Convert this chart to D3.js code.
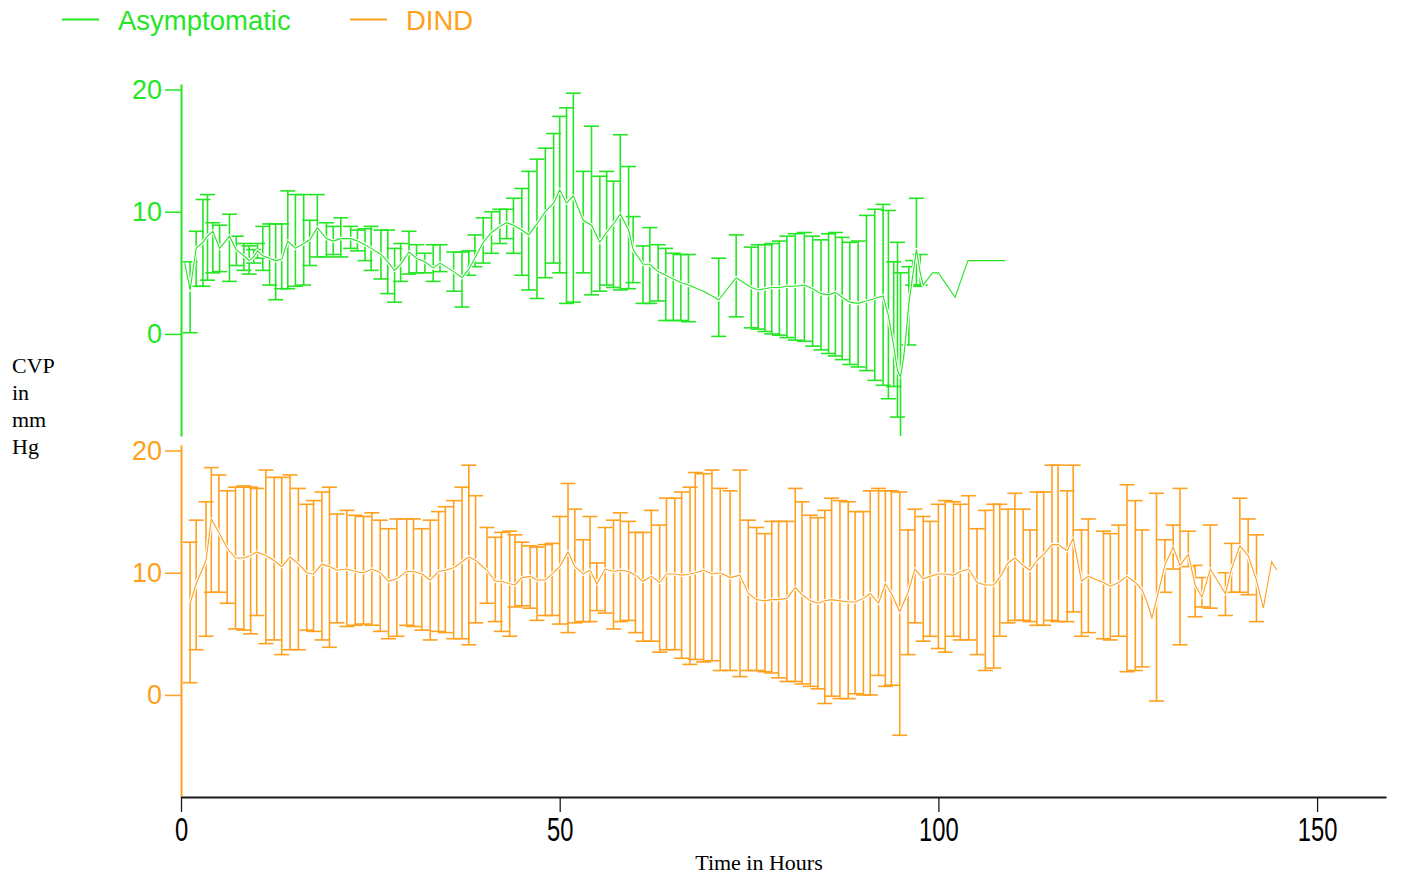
<!DOCTYPE html>
<html>
<head>
<meta charset="utf-8">
<script src="https://cdn.jsdelivr.net/npm/d3@7"></script>
<style>
  body { margin: 0; background: #fff; }
  svg { display: block; }
</style>
</head>
<body>
<svg id="chart" width="1401" height="876"></svg>
<script>
// Asymptomatic group (hours, mean CVP, upper and lower error bar ends)
var asymTime = [0.5, 1.2, 2.0, 2.9, 3.5, 4.2, 5.1, 6.4, 7.3, 8.3, 9.0, 9.6, 10.1, 10.8, 11.7, 12.5, 13.3, 14.1, 15.1, 16.2,
  17.0, 18.0, 19.2, 20.1, 21.1, 22.4, 23.3, 24.3, 25.1, 26.4, 27.3, 28.2, 29.0, 30.1, 31.1, 32.2, 33.3, 34.2, 36.0, 37.1,
  38.0, 38.8, 39.9, 41.0, 42.1, 43.0, 43.9, 45.0, 45.9, 47.0, 48.1, 49.2, 50.0, 50.9, 51.8, 53.1, 54.2, 55.3, 56.2, 57.1,
  58.0, 59.1, 59.7, 61.0, 61.9, 63.0, 64.0, 65.0, 66.0, 67.0, 69.0, 71.0, 73.3, 75.3, 76.2, 77.1, 78.0, 79.0, 80.0, 81.1,
  82.3, 83.4, 84.5, 85.5, 86.4, 87.3, 88.3, 89.4, 90.5, 91.6, 92.7, 93.4, 94.1, 94.6, 95.0, 95.4, 95.7, 96.1, 96.6, 97.1,
  97.6, 98.0, 99.2, 100.0, 102.2, 103.9, 108.8]
var asymMean = [5.8, 3.6, 7.0, 7.5, 8.0, 8.4, 7.0, 8.0, 6.9, 6.4, 6.0, 6.3, 6.8, 6.4, 6.2, 6.0, 6.1, 7.6, 7.0, 7.4,
  7.7, 8.7, 7.8, 7.6, 7.8, 7.8, 7.6, 7.3, 7.0, 6.5, 5.9, 5.2, 5.7, 6.7, 6.2, 5.9, 5.4, 5.8, 5.1, 4.6,
  5.3, 6.2, 7.5, 8.3, 8.8, 9.1, 8.9, 8.5, 8.1, 9.0, 10.0, 10.7, 11.8, 10.7, 11.3, 9.3, 8.9, 7.5, 8.3, 9.0,
  9.8, 8.5, 6.9, 5.7, 5.7, 5.1, 4.8, 4.5, 4.2, 4.0, 3.5, 2.8, 4.6, 3.8, 3.6, 3.7, 3.8, 3.8, 3.9, 3.9,
  4.0, 3.7, 3.3, 3.2, 3.4, 3.0, 2.6, 2.5, 2.7, 2.9, 3.1, 1.5, -1.0, -3.0, -3.5, -2.0, -0.2, 2.5, 4.7, 6.9,
  5.0, 4.0, 5.0, 5.0, 3.0, 6.0, 6.0]
var asymHigh = [null, 5.9, 8.4, 11.0, 11.4, 9.1, 8.9, 9.8, 8.0, 7.4, 7.2, 6.9, 7.4, 8.8, 9.0, 9.0, 9.0, 11.7, 11.4, 11.4,
  9.3, 11.4, 9.1, 8.8, 9.5, 8.8, 8.5, 8.6, 8.8, 8.5, 8.5, 7.0, 7.4, 8.4, 7.3, 6.6, 7.3, 7.3, 6.7, 6.7,
  6.8, 8.1, 9.5, 10.0, 10.2, 10.2, 11.1, 11.9, 13.3, 14.3, 15.2, 16.4, 17.8, 18.5, 19.7, 13.3, 17.0, 12.9, 13.3, 12.5,
  16.3, 13.7, 9.6, 7.2, 8.7, 7.3, 7.0, 6.6, 6.5, 6.5, null, 6.2, 8.1, 7.1, 7.3, 7.3, 7.4, 7.6, 8.0, 8.2,
  8.3, 8.0, 7.7, 8.2, 8.3, 7.9, 7.5, 7.6, 9.7, 10.2, 10.6, 10.1, 5.9, 7.5, 5.0, null, null, 5.5, 6.0, 11.1,
  6.5, null, null, null, null, null, null]
var asymLow = [null, 0.1, 3.9, 3.9, 4.4, 5.0, 5.1, 4.3, 5.6, 5.2, 4.9, 5.8, 6.2, 5.2, 4.0, 2.8, 3.7, 3.7, 3.9, 4.0,
  5.6, 6.3, 6.3, 6.5, 6.3, 7.0, 6.8, 6.0, 5.2, 4.5, 3.3, 2.6, 4.3, 4.9, 5.0, 5.0, 4.3, 5.1, 3.5, 2.2,
  4.8, 5.5, 5.8, 6.6, 7.4, 7.8, 6.6, 4.8, 3.6, 2.9, 4.6, 5.8, 5.0, 2.5, 2.6, 5.0, 3.2, 3.5, 4.0, 3.8,
  3.6, 3.7, 4.2, 2.5, 2.5, 2.7, 1.1, 1.1, 1.1, 1.0, null, -0.2, 1.4, 0.5, 0.4, 0.2, 0.0, -0.1, -0.3, -0.5,
  -0.6, -1.0, -1.3, -1.6, -1.8, -2.1, -2.5, -2.7, -3.0, -3.8, -4.2, -5.3, -4.3, -6.8, -9.5, null, null, -0.9, 4.0, 3.9,
  4.0, null, null, null, null, null, null]

// DIND group
var dindTime = [1.2, 2.0, 3.3, 4.0, 5.0, 6.1, 7.2, 8.3, 9.2, 10.0, 11.2, 12.3, 13.3, 14.4, 15.5, 16.6, 17.5, 18.6, 19.6, 20.6,
  21.9, 23.0, 24.1, 25.2, 26.3, 27.4, 28.5, 29.8, 30.7, 31.8, 32.9, 34.0, 34.9, 36.0, 37.1, 38.0, 38.9, 40.4, 41.5, 42.3,
  43.4, 44.1, 45.0, 46.1, 47.0, 48.1, 49.0, 50.0, 51.1, 52.0, 53.1, 54.0, 54.9, 56.0, 57.1, 58.0, 59.1, 60.0, 61.0, 62.1,
  63.2, 64.1, 65.2, 66.1, 67.2, 67.9, 69.0, 70.1, 71.2, 72.5, 73.8, 74.9, 76.0, 77.1, 78.0, 78.9, 80.0, 81.1, 82.0, 83.1,
  84.1, 85.0, 85.9, 87.0, 88.1, 89.0, 90.1, 91.0, 92.1, 93.0, 93.8, 94.9, 96.0, 96.9, 98.0, 98.9, 100.0, 100.9, 102.0, 102.9,
  104.0, 105.1, 106.2, 107.3, 108.1, 109.2, 110.1, 111.2, 112.1, 113.0, 113.9, 115.0, 115.8, 117.0, 117.8, 118.9, 119.8, 121.8, 122.7, 123.8,
  124.9, 126.0, 126.9, 127.6, 128.2, 128.8, 129.9, 131.0, 131.9, 133.0, 133.9, 134.8, 135.9, 137.9, 138.7, 139.8, 140.9, 142.0, 142.9, 144.0,
  144.7]
var dindMean = [7.5, 9.1, 11.0, 14.4, 13.3, 12.0, 11.2, 11.2, 11.4, 11.7, 11.4, 11.0, 10.5, 11.3, 10.7, 10.0, 9.9, 10.7, 10.5, 10.2,
  10.3, 10.1, 10.0, 10.3, 10.0, 9.3, 9.5, 10.1, 10.1, 9.9, 9.4, 10.1, 10.2, 10.4, 10.9, 11.3, 11.0, 10.2, 9.3, 9.3,
  9.1, 9.0, 9.6, 9.7, 9.4, 9.4, 9.9, 10.5, 11.7, 10.5, 9.9, 10.2, 9.1, 10.3, 10.1, 10.2, 10.1, 9.8, 9.3, 9.7,
  9.2, 9.9, 9.9, 9.8, 9.9, 10.0, 10.2, 9.9, 10.0, 9.6, 9.8, 8.3, 7.8, 7.7, 7.8, 7.8, 7.9, 8.8, 8.2, 7.7,
  7.5, 7.7, 7.8, 7.7, 7.6, 7.6, 7.9, 8.3, 7.5, 9.1, 8.3, 6.8, 8.4, 10.3, 9.5, 9.7, 9.9, 9.9, 9.8, 10.1,
  10.3, 9.2, 9.0, 9.0, 9.6, 10.8, 11.2, 10.6, 10.2, 11.0, 11.5, 12.3, 12.3, 11.8, 12.8, 9.3, 9.7, 9.2, 8.9, 9.2,
  9.7, 9.2, 8.6, 7.5, 6.3, 7.8, 10.6, 12.1, 10.6, 11.5, 9.0, 8.0, 10.3, 8.3, 10.3, 12.2, 11.4, 9.4, 7.1, 10.9,
  10.2]
var dindHigh = [12.5, 14.3, 15.8, 18.6, 18.0, 16.7, 17.0, 17.1, 17.0, 16.9, 18.4, 17.8, 17.8, 18.0, 16.9, 15.6, 15.9, 16.6, 17.0, 14.8,
  15.1, 14.7, 14.6, 14.9, 14.3, 13.6, 14.4, 14.4, 14.4, 13.6, 14.3, 15.0, 15.4, 15.9, 17.0, 18.8, 16.3, 13.7, 12.9, 13.3,
  13.4, 13.1, 12.5, 12.2, 12.1, 12.3, 12.4, 14.6, 17.3, 15.2, 12.7, 14.6, 10.8, 13.7, 14.3, 14.9, 14.2, 13.3, 13.3, 15.1,
  13.9, 16.1, 16.1, 16.6, 17.0, 18.2, 18.1, 18.4, 16.9, 16.7, 18.4, 14.3, 13.7, 13.2, 14.2, 14.2, 14.2, 16.9, 15.8, 14.7,
  14.5, 15.1, 16.1, 15.9, 15.8, 15.0, 15.0, 16.7, 16.9, 16.7, 16.7, 16.6, 13.5, 15.2, 14.6, 14.2, 15.6, 15.9, 15.8, 15.6,
  16.3, 13.6, 15.1, 15.6, 15.6, 15.2, 16.5, 15.2, 13.5, 16.6, 16.6, 18.8, 18.8, 16.7, 18.8, 13.5, 14.4, 13.4, 13.2, 13.9,
  17.2, 15.9, 13.5, null, null, 16.5, 12.7, 13.9, 16.9, 13.4, 10.6, 9.6, 13.9, 10.0, 12.4, 16.1, 14.4, 13.1, null, null,
  null]
var dindLow = [1.0, 3.7, 4.8, 8.4, 8.4, 7.5, 5.4, 5.3, 5.0, 6.5, 4.2, 4.5, 3.3, 3.7, 3.7, 5.3, 5.2, 4.5, 3.9, 5.9,
  5.6, 5.7, 5.8, 5.7, 5.2, 4.6, 4.8, 5.7, 5.6, 5.3, 4.5, 5.2, 5.1, 4.6, 4.6, 4.1, 5.9, 7.5, 6.0, 5.2,
  4.8, 7.2, 7.3, 7.1, 6.1, 6.5, 6.5, 5.8, 5.1, 5.9, 6.0, 6.0, 6.9, 6.7, 5.4, 6.0, 6.1, 5.1, 4.4, 4.4,
  3.5, 3.7, 3.7, 3.0, 2.5, 2.9, 2.7, 2.8, 2.0, 2.0, 1.5, 2.0, 2.0, 1.9, 1.8, 1.4, 1.1, 1.1, 0.9, 0.7,
  0.5, -0.7, -0.1, -0.3, -0.3, 0.1, 0.0, 0.0, 1.6, 0.7, 0.8, -3.3, 3.3, 5.9, 4.4, 4.8, 3.8, 3.5, 4.8, 4.5,
  4.5, 3.3, 2.0, 2.2, 4.8, 5.9, 6.1, 6.1, 6.0, 5.7, 5.7, 6.1, 6.0, 6.0, 6.8, 4.8, 5.1, 4.6, 4.5, 4.8,
  1.9, 2.0, 2.3, null, null, -0.5, 8.4, 10.3, 4.1, 10.5, 6.4, 7.2, 7.1, 6.5, 8.4, 8.4, 8.2, 6.0, null, null,
  null]

var yTicksMajor = [0, 10, 20]
var yTicksMinor = [-5, 5, 15]
var xTicksMajor = [0, 50, 100, 150]
var xTicksMinor = [10, 20, 30, 40, 60, 70, 80, 90, 110, 120, 130, 140]

var green = "#24e624"
var orange = "#ffa01e"

function renderChart() {
  var svg = d3.select("#chart")

  svg.append("rect")
    .attr("width", 1401)
    .attr("height", 876)
    .attr("fill", "#fff")

  var x = d3.scaleLinear().domain([0, 159.1]).range([181, 1386])
  var yTop = d3.scaleLinear().domain([-8.35, 20.45]).range([436, 84])
  var yBot = d3.scaleLinear().domain([-8.35, 20.45]).range([797, 445])

  svg.append("clipPath")
    .attr("id", "top-clip")
    .append("rect")
    .attr("x", 0)
    .attr("y", 60)
    .attr("width", 1401)
    .attr("height", 376)

  drawSeries(svg.append("g").attr("clip-path", "url(#top-clip)"),
    x, yTop, asymTime, asymMean, asymHigh, asymLow, green)
  drawSeries(svg.append("g"), x, yBot, dindTime, dindMean, dindHigh, dindLow, orange)

  drawYAxis(svg, yTop, green)
  drawYAxis(svg, yBot, orange)

  // bottom axis
  var xg = svg.append("g")
    .attr("class", "x axis")
    .attr("transform", "translate(0,797)")

  xg.call(d3.axisBottom(x).tickValues(xTicksMinor).tickSize(6).tickSizeOuter(0).tickFormat(""))
  xg.call(d3.axisBottom(x).tickValues(xTicksMajor).tickSize(15).tickSizeOuter(0).tickPadding(6))
  xg.selectAll("path").attr("stroke", "#1a1a1a").attr("stroke-width", 2.2)
  xg.selectAll("line").attr("stroke", "#1a1a1a").attr("stroke-width", 1.3)
  // the original labels are tall and narrow
  xg.selectAll("text")
    .attr("fill", "#000")
    .attr("font-family", "'Liberation Sans', Arial, sans-serif")
    .attr("font-size", 33)
    .attr("transform", "scale(0.72,1)")

  svg.append("text")
    .attr("x", 759)
    .attr("y", 870)
    .attr("text-anchor", "middle")
    .attr("font-family", "'Liberation Serif', 'Times New Roman', serif")
    .attr("font-size", 22)
    .text("Time in Hours")

  var ylab = svg.append("text")
    .attr("font-family", "'Liberation Serif', 'Times New Roman', serif")
    .attr("font-size", 22)
  ;["CVP", "in", "mm", "Hg"].forEach(function(w, i) {
    ylab.append("tspan").attr("x", 12).attr("y", 373 + i * 27).text(w)
  })

  // legend
  var legend = [
    { name: "Asymptomatic", color: green, x: 62 },
    { name: "DIND", color: orange, x: 350 }
  ]
  var lg = svg.selectAll(".legend")
    .data(legend)
    .enter().append("g")
    .attr("class", "legend")
    .attr("transform", function(d) { return "translate(" + d.x + ",0)" })
  lg.append("line")
    .attr("x1", 0).attr("x2", 37)
    .attr("y1", 19.5).attr("y2", 19.5)
    .attr("stroke", function(d) { return d.color })
    .attr("stroke-width", 2)
  lg.append("text")
    .attr("x", 56)
    .attr("y", 29.5)
    .attr("fill", function(d) { return d.color })
    .attr("font-family", "'Liberation Sans', Arial, sans-serif")
    .attr("font-size", 27.5)
    .text(function(d) { return d.name })
}

function drawYAxis(svg, y, color) {
  var g = svg.append("g")
    .attr("class", "y axis")
    .attr("transform", "translate(181,0)")
  g.call(d3.axisLeft(y).tickValues(yTicksMinor).tickSize(9).tickSizeOuter(0).tickFormat(""))
  g.call(d3.axisLeft(y).tickValues(yTicksMajor).tickSize(16).tickSizeOuter(0).tickPadding(3))
  g.selectAll("path").attr("stroke", color).attr("stroke-width", 2)
  g.selectAll("line").attr("stroke", color).attr("stroke-width", 1.5)
  g.selectAll("text")
    .attr("fill", color)
    .attr("font-family", "'Liberation Sans', Arial, sans-serif")
    .attr("font-size", 27)
}

function drawSeries(g, x, y, time, mean, high, low, color) {
  var idx = d3.range(time.length).filter(function(i) { return high[i] != null })
  var cap = 7.5

  var bars = g.append("g")
    .attr("stroke", color)
    .attr("stroke-width", 1.6)

  bars.selectAll(".err")
    .data(idx)
    .enter().append("line")
    .attr("class", "err")
    .attr("x1", function(i) { return x(time[i]) })
    .attr("x2", function(i) { return x(time[i]) })
    .attr("y1", function(i) { return y(high[i]) })
    .attr("y2", function(i) { return y(low[i]) })

  bars.selectAll(".cap-hi")
    .data(idx)
    .enter().append("line")
    .attr("class", "cap-hi")
    .attr("x1", function(i) { return x(time[i]) - cap })
    .attr("x2", function(i) { return x(time[i]) + cap })
    .attr("y1", function(i) { return y(high[i]) })
    .attr("y2", function(i) { return y(high[i]) })

  bars.selectAll(".cap-lo")
    .data(idx)
    .enter().append("line")
    .attr("class", "cap-lo")
    .attr("x1", function(i) { return x(time[i]) - cap })
    .attr("x2", function(i) { return x(time[i]) + cap })
    .attr("y1", function(i) { return y(low[i]) })
    .attr("y2", function(i) { return y(low[i]) })

  var line = d3.line()
    .x(function(i) { return x(time[i]) })
    .y(function(i) { return y(mean[i]) })

  var all = d3.range(time.length)
  g.append("path")
    .attr("d", line(all))
    .attr("fill", "none")
    .attr("stroke", "#fff")
    .attr("stroke-width", 3.6)
    .attr("stroke-linejoin", "round")
  g.append("path")
    .attr("d", line(all))
    .attr("fill", "none")
    .attr("stroke", color)
    .attr("stroke-width", 1.1)
}

renderChart()
</script>
</body>
</html>
